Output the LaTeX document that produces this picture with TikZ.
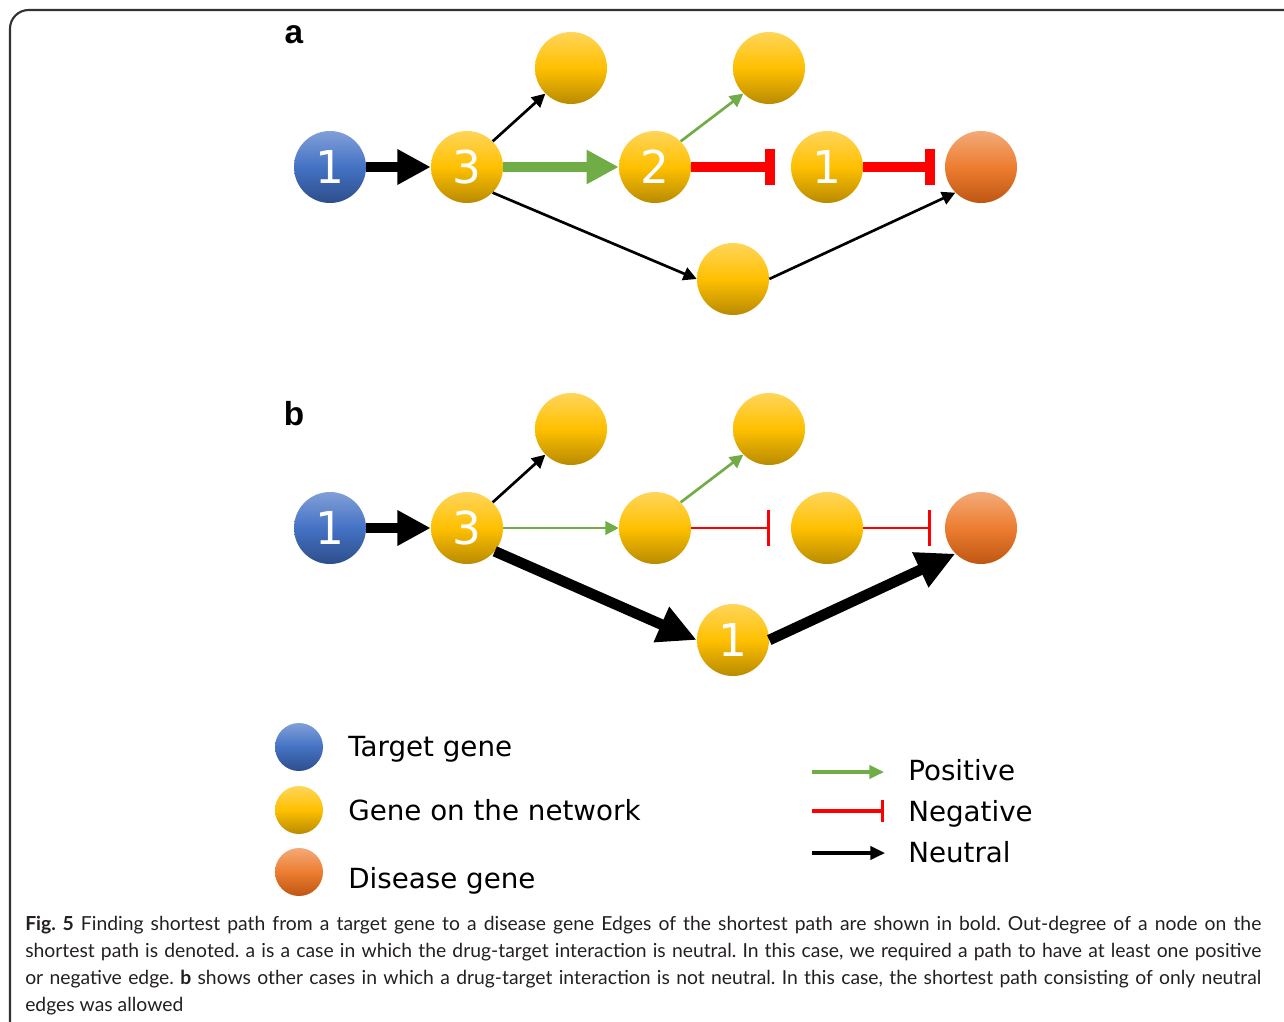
\documentclass[tikz,border=0pt]{standalone}
\usepackage{fontspec}
\setmainfont{Lato}
\newfontfamily\legfont{DejaVu Sans}
\newfontfamily\labfont{Liberation Sans}
\usetikzlibrary{arrows.meta}
\definecolor{ytop}{HTML}{FFD55A}
\definecolor{ymid}{HTML}{FFC000}
\definecolor{ybot}{HTML}{B88A00}
\definecolor{btop}{HTML}{819FD8}
\definecolor{bmid}{HTML}{4472C4}
\definecolor{bbot}{HTML}{2E4E8C}
\definecolor{otop}{HTML}{F2AA78}
\definecolor{omid}{HTML}{ED7D31}
\definecolor{obot}{HTML}{BE5612}
\definecolor{posgreen}{HTML}{70AD47}
\definecolor{negred}{HTML}{FF0000}
\definecolor{framegray}{HTML}{333333}
\definecolor{captext}{HTML}{231F20}
\frenchspacing
\begin{document}
\begin{tikzpicture}[x=0.75pt,y=-0.75pt,
  gene/.style={circle, minimum size=54pt, inner sep=0pt, draw=none,
    top color=ytop, bottom color=ybot, middle color=ymid, text=white,
    font=\legfont\fontsize{34}{34}\selectfont},
  target/.style={gene, top color=btop, bottom color=bbot, middle color=bmid},
  disease/.style={gene, top color=otop, bottom color=obot, middle color=omid},
  lgsize/.style={minimum size=36pt},
  thickblk/.style={draw=black, line width=7pt, -{Triangle[length=25pt,width=25pt]}},
  bigblk/.style={draw=black, line width=8pt, -{Triangle[length=29pt,width=27pt]}},
  thickgrn/.style={draw=posgreen, line width=8pt, -{Triangle[length=24pt,width=24pt]}},
  thinblk/.style={draw=black, line width=2pt, -{Triangle[length=10pt,width=10pt]}},
  thingrn/.style={draw=posgreen, line width=2pt, -{Triangle[length=10pt,width=10pt]}},
  thickred/.style={draw=negred, line width=7.5pt, -{Bar[width=27pt]}},
  thinred/.style={draw=negred, line width=2pt, -{Bar[width=27pt]}},
  legtext/.style={anchor=base west, inner sep=0pt, font=\legfont\fontsize{20.8}{20.8}\selectfont, text=black},
  panlab/.style={inner sep=0pt, font=\labfont\bfseries\fontsize{25}{25}\selectfont},
  legpos/.style={draw=posgreen, line width=2.3pt, -{Triangle[length=11pt,width=10pt]}},
  legneg/.style={draw=negred, line width=2.3pt, -{Bar[width=16pt]}},
  legneu/.style={draw=black, line width=2.3pt, -{Triangle[length=11pt,width=10pt]}}
]
\useasboundingbox (0,0) rectangle (1284,1021);
\draw[framegray, line width=1.6pt, rounded corners=14pt] (10,1024) -- (10,10) -- (1300,10);

% ---------- panel a ----------
\node[panlab] (labA) at (294,35) {a};
\node[target]  (nA1)  at (330,167) {1};
\node[gene]    (nA3)  at (467,167) {3};
\node[gene]    (nAt1) at (571,68)  {};
\node[gene]    (nA2)  at (655,167) {2};
\node[gene]    (nAt2) at (769,68)  {};
\node[gene]    (nAy)  at (827,167) {1};
\node[disease] (nAd)  at (981,167) {};
\node[gene]    (nAb)  at (733,279) {};

\draw[thickblk] (nA1) -- (nA3);
\draw[thickgrn] (nA3) -- (nA2);
\draw[thinblk] (nA3.45) -- (nAt1.225);
\draw[thinblk] (nA3.-45) -- (nAb.west);
\draw[thingrn] (nA2.45) -- (nAt2.225);
\draw[thickred, shorten >=12pt] (nA2) -- (nAy);
\draw[thickred, shorten >=7.5pt] (nAy) -- (nAd);
\draw[thinblk] (nAb.east) -- (nAd.225);

% ---------- panel b ----------
\node[panlab] (labB) at (294,414) {b};
\node[target]  (nB1)  at (330,528) {1};
\node[gene]    (nB3)  at (467,528) {3};
\node[gene]    (nBt1) at (571,429) {};
\node[gene]    (nB2)  at (655,528) {};
\node[gene]    (nBt2) at (769,429) {};
\node[gene]    (nBy)  at (827,528) {};
\node[disease] (nBd)  at (981,528) {};
\node[gene]    (nBb)  at (733,640) {1};

\draw[thickblk] (nB1) -- (nB3);
\draw[thingrn] (nB3) -- (nB2);
\draw[thinblk] (nB3.45) -- (nBt1.225);
\draw[bigblk] (nB3.-40) -- (nBb.west);
\draw[thingrn] (nB2.45) -- (nBt2.225);
\draw[thinred, shorten >=15.5pt] (nB2) -- (nBy);
\draw[thinred, shorten >=10.5pt] (nBy) -- (nBd);
\draw[bigblk] (nBb.east) -- (nBd.225);

% ---------- legend ----------
\node[target, lgsize]  (lg1) at (299,747) {};
\node[gene, lgsize]    (lg2) at (299,810) {};
\node[disease, lgsize] (lg3) at (299,872) {};
\node[legtext] (lt1) at (348,756) {Target gene};
\node[legtext] (lt2) at (348,820) {Gene on the network};
\node[legtext] (lt3) at (348,888) {Disease gene};

\coordinate (ps) at (812,772); \coordinate (pe) at (884,772);
\coordinate (ns) at (812,811); \coordinate (ne) at (884,811);
\coordinate (us) at (812,853); \coordinate (ue) at (885,853);
\draw[legpos] (ps) -- (pe);
\draw[legneg] (ns) -- (ne);
\draw[legneu] (us) -- (ue);
\node[legtext] (et1) at (908,780) {Positive};
\node[legtext] (et2) at (908,821) {Negative};
\node[legtext] (et3) at (908,862) {Neutral};

% ---------- caption ----------
\node[anchor=north west, inner sep=0pt, text width=927pt, align=justify, text=captext,
  font=\fontsize{14.5}{20.25}\selectfont] (cap) at (25,916)
{\hyphenpenalty=10000\exhyphenpenalty=10000
\textbf{Fig. 5} Finding shortest path from a target gene to a disease gene Edges of the shortest path are shown in bold. Out-degree of a node on the\linebreak
shortest path is denoted. a is a case in which the drug-target interaction is neutral. In this case, we required a path to have at least one positive\linebreak
or negative edge. \textbf{b} shows other cases in which a drug-target interaction is not neutral. In this case, the shortest path consisting of only neutral\linebreak
edges was allowed};
\end{tikzpicture}
\end{document}
